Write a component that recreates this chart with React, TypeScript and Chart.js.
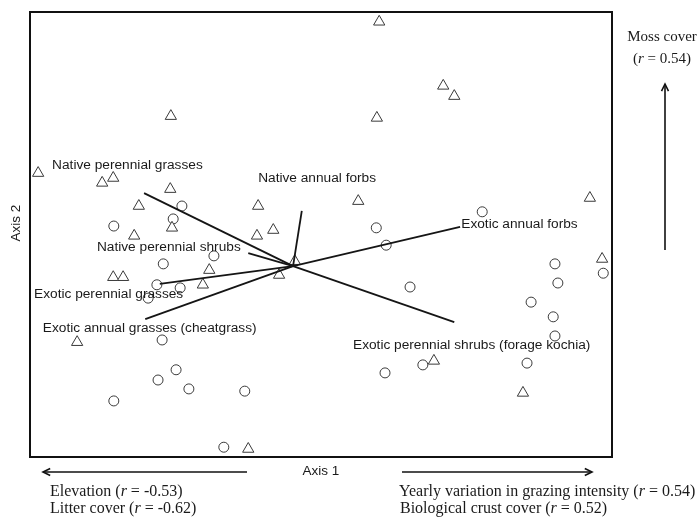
import React, { useEffect, useRef } from "react";
import Chart from "chart.js/auto";

// Ordination scores (axis units 0..100)
const triangleX = [60.0, 71.0, 72.9, 59.6, 24.2, 1.4, 12.4, 14.3, 24.1, 18.7, 39.2, 41.8, 39.0, 17.9, 24.4, 56.4, 96.2, 30.8, 14.3, 16.0, 29.7, 42.8, 45.5, 8.1, 37.5, 98.3, 69.4, 84.7];
const triangleY = [97.8, 83.4, 81.1, 76.2, 76.6, 63.8, 61.6, 62.7, 60.2, 56.4, 56.4, 51.0, 49.7, 49.7, 51.5, 57.5, 58.2, 42.0, 40.4, 40.4, 38.7, 40.9, 44.0, 25.8, 1.8, 44.5, 21.6, 14.4];
const circleX = [26.1, 14.4, 24.6, 77.7, 59.5, 61.2, 22.9, 31.6, 21.8, 25.8, 20.3, 22.7, 25.1, 22.0, 27.3, 36.9, 14.4, 33.3, 90.2, 98.5, 90.7, 65.3, 86.1, 89.9, 90.2, 67.5, 61.0, 85.4];
const circleY = [56.4, 51.9, 53.5, 55.1, 51.5, 47.6, 43.4, 45.2, 38.7, 38.0, 35.7, 26.3, 19.6, 17.3, 15.3, 14.8, 12.6, 2.2, 43.4, 41.3, 39.1, 38.2, 34.8, 31.5, 27.2, 20.7, 18.9, 21.1];

// Functional-group vectors
const vectorNames = [
  "Native perennial grasses",
  "Native annual forbs",
  "Native perennial shrubs",
  "Exotic perennial grasses",
  "Exotic annual grasses (cheatgrass)",
  "Exotic annual forbs",
  "Exotic perennial shrubs (forage kochia)",
];
const vectorOriginX = 45.2;
const vectorOriginY = 42.9;
const vectorEndX = [19.6, 46.7, 37.5, 22.3, 19.8, 73.9, 72.9];
const vectorEndY = [59.3, 55.3, 45.8, 38.9, 31.0, 51.7, 30.3];
const labelAnchorX = [3.8, 39.2, 11.5, 0.7, 2.2, 74.1, 55.5];
const labelAnchorY = [65.6, 62.7, 47.2, 36.6, 29.0, 52.4, 25.2];

const axisTitles = ["Axis 1", "Axis 2"];
const leftNotes = [
  ["Elevation (", "r", " = -0.53)"],
  ["Litter cover (", "r", " = -0.62)"],
];
const rightNotes = [
  ["Yearly variation in grazing intensity (", "r", " = 0.54)"],
  ["Biological crust cover (", "r", " = 0.52)"],
];
const mossNote = ["Moss cover", "(", "r", " = 0.54)"];

const SERIF = '"Liberation Serif", "Times New Roman", serif';
const SANS = '"Liberation Sans", Arial, sans-serif';

function drawRich(ctx: CanvasRenderingContext2D, parts: string[], x: number, y: number, size: number, align: "left" | "center") {
  const fonts = parts.map((_, i) => (i % 2 === 1 ? `italic ${size}px ${SERIF}` : `${size}px ${SERIF}`));
  let total = 0;
  const widths = parts.map((p, i) => {
    ctx.font = fonts[i];
    const w = ctx.measureText(p).width;
    total += w;
    return w;
  });
  let cx = align === "center" ? x - total / 2 : x;
  ctx.textAlign = "left";
  ctx.textBaseline = "middle";
  parts.forEach((p, i) => {
    ctx.font = fonts[i];
    ctx.fillText(p, cx, y);
    cx += widths[i];
  });
}

function arrow(ctx: CanvasRenderingContext2D, x1: number, y1: number, x2: number, y2: number) {
  ctx.beginPath();
  ctx.moveTo(x1, y1);
  ctx.lineTo(x2, y2);
  ctx.stroke();
  const a = Math.atan2(y2 - y1, x2 - x1);
  const h = 8;
  ctx.beginPath();
  ctx.moveTo(x2 - h * Math.cos(a - 0.45), y2 - h * Math.sin(a - 0.45));
  ctx.lineTo(x2, y2);
  ctx.lineTo(x2 - h * Math.cos(a + 0.45), y2 - h * Math.sin(a + 0.45));
  ctx.stroke();
}

const decorPlugin = {
  id: "decor",
  afterDatasetsDraw(chart: any) {
    const ctx: CanvasRenderingContext2D = chart.ctx;
    const { left, right, top, bottom } = chart.chartArea;
    const xs = chart.scales.x;
    const ys = chart.scales.y;
    ctx.save();
    // frame
    ctx.strokeStyle = "#111";
    ctx.lineWidth = 2;
    ctx.strokeRect(left, top, right - left, bottom - top);

    // vector labels
    ctx.fillStyle = "#1a1a1a";
    ctx.font = `13.7px ${SANS}`;
    ctx.textAlign = "left";
    ctx.textBaseline = "middle";
    vectorNames.forEach((name, i) => {
      ctx.fillText(name, xs.getPixelForValue(labelAnchorX[i]), ys.getPixelForValue(labelAnchorY[i]));
    });

    // axis titles
    ctx.font = `13.5px ${SANS}`;
    ctx.textAlign = "center";
    ctx.fillText(axisTitles[0], left + 291, bottom + 14);
    ctx.save();
    ctx.translate(left - 14, top + 211);
    ctx.rotate(-Math.PI / 2);
    ctx.fillText(axisTitles[1], 0, 0);
    ctx.restore();

    // outside arrows
    ctx.strokeStyle = "#111";
    ctx.lineWidth = 1.6;
    arrow(ctx, left + 217, bottom + 15, left + 13, bottom + 15);
    arrow(ctx, left + 372, bottom + 15, left + 562, bottom + 15);
    arrow(ctx, right + 53, top + 238, right + 53, top + 72);

    // serif notes
    ctx.fillStyle = "#1a1a1a";
    drawRich(ctx, leftNotes[0], left + 20, bottom + 35, 16, "left");
    drawRich(ctx, leftNotes[1], left + 20, bottom + 52, 16, "left");
    drawRich(ctx, rightNotes[0], left + 369, bottom + 35, 16, "left");
    drawRich(ctx, rightNotes[1], left + 370, bottom + 52, 16, "left");
    drawRich(ctx, [mossNote[0]], right + 50, top + 25, 15, "center");
    drawRich(ctx, mossNote.slice(1), right + 50, top + 47, 15, "center");
    ctx.restore();
  },
};

export default function App() {
  const ref = useRef<HTMLCanvasElement | null>(null);
  useEffect(() => {
    document.body.style.margin = "0";
    const canvas = ref.current;
    if (!canvas) return;
    const vectorSets = vectorNames.map((name, i) => ({
      label: name,
      data: [
        { x: vectorOriginX, y: vectorOriginY },
        { x: vectorEndX[i], y: vectorEndY[i] },
      ],
      showLine: true,
      borderColor: "#151515",
      borderWidth: 1.8,
      pointRadius: 0,
      fill: false,
      order: 0,
    }));
    const chart = new Chart(canvas, {
      type: "scatter",
      data: {
        datasets: [
          ...vectorSets,
          {
            label: "triangles",
            data: triangleX.map((x, i) => ({ x, y: triangleY[i] })),
            pointStyle: "triangle",
            pointRadius: 6.5,
            backgroundColor: "#fff",
            borderColor: "#3a3a3a",
            borderWidth: 1,
            order: 1,
          },
          {
            label: "circles",
            data: circleX.map((x, i) => ({ x, y: circleY[i] })),
            pointStyle: "circle",
            pointRadius: 5,
            backgroundColor: "#fff",
            borderColor: "#3a3a3a",
            borderWidth: 1,
            order: 1,
          },
        ],
      },
      options: {
        animation: false,
        responsive: false,
        layout: { padding: { left: 30, top: 12, right: 87, bottom: 62 } },
        scales: {
          x: { type: "linear", min: 0, max: 100, display: false },
          y: { type: "linear", min: 0, max: 100, display: false },
        },
        plugins: { legend: { display: false }, tooltip: { enabled: false } },
      },
      plugins: [decorPlugin],
    });
    return () => chart.destroy();
  }, []);
  return <canvas ref={ref} width={699} height={519} style={{ display: "block" }} />;
}
